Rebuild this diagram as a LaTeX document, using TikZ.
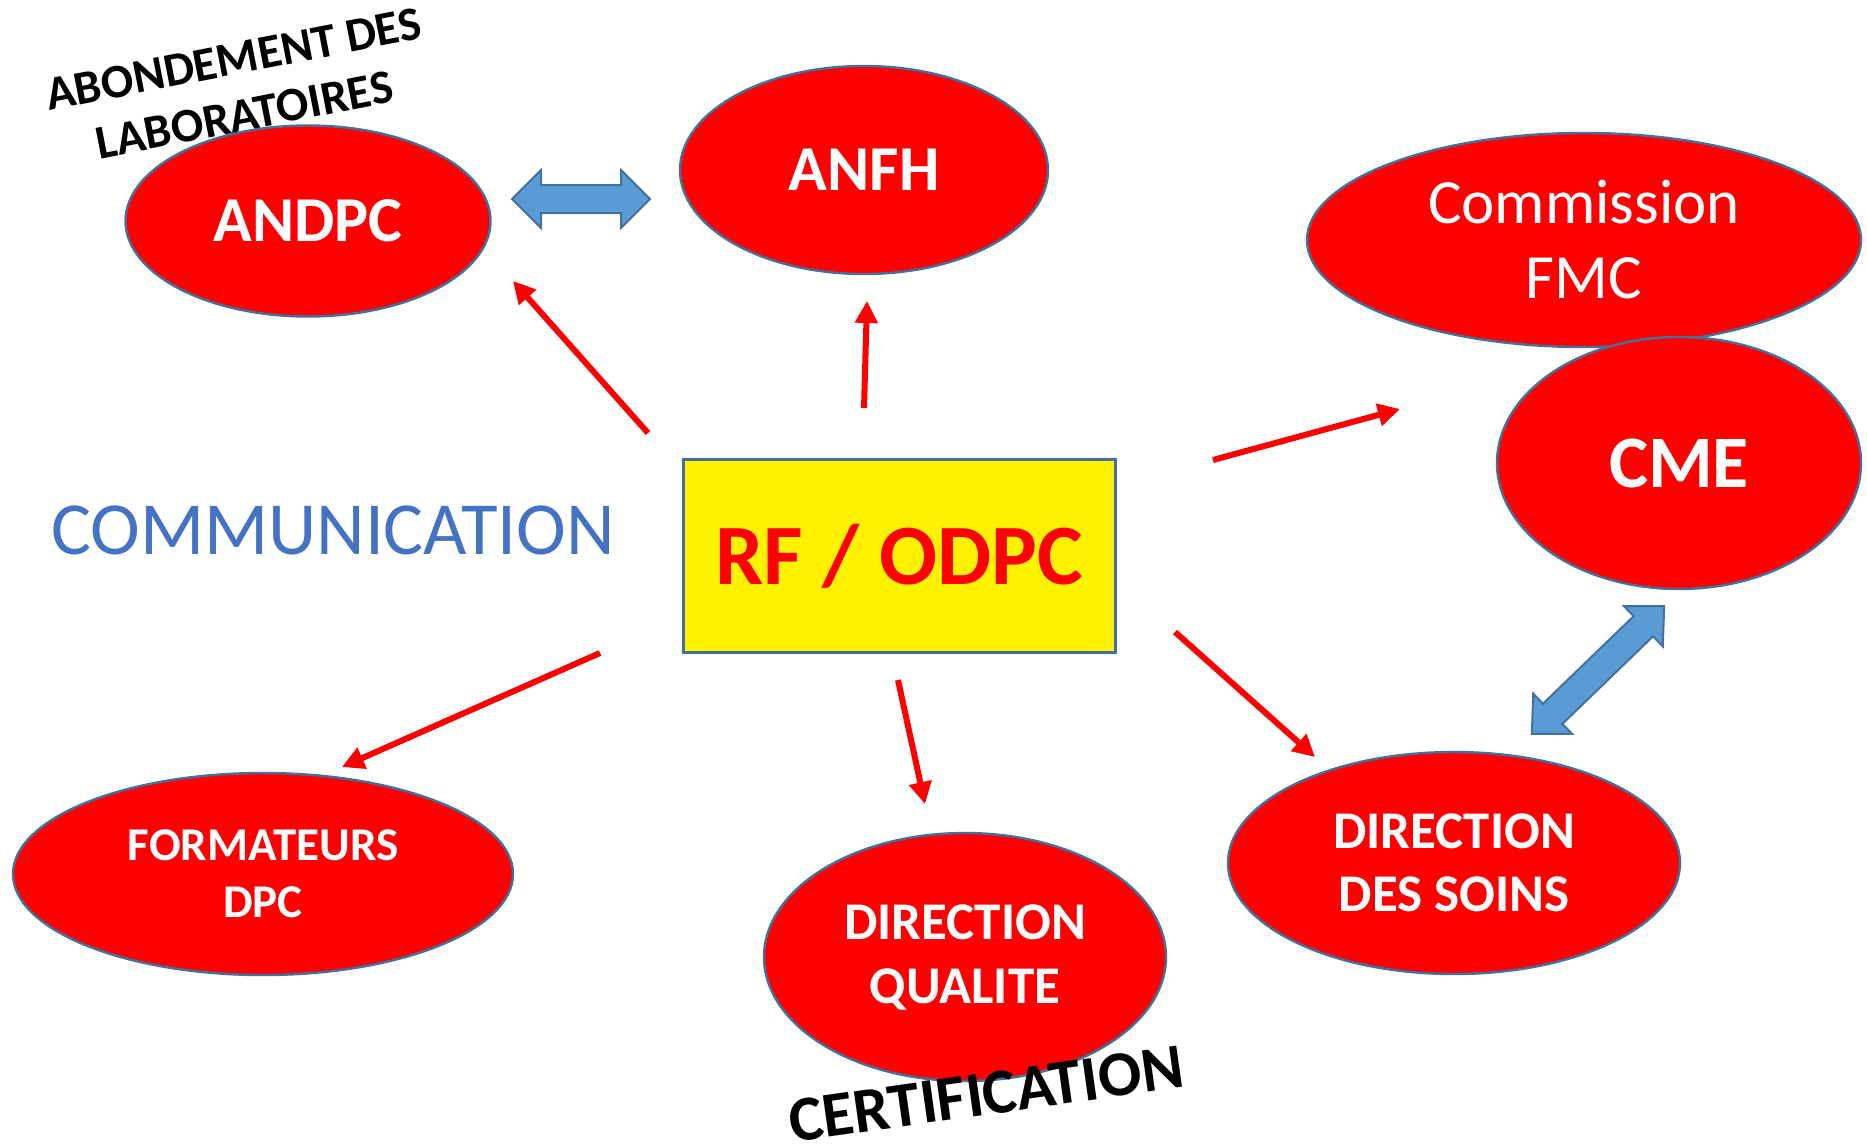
\documentclass[tikz,border=0pt]{standalone}
\usepackage{fontspec}
\setmainfont{Carlito}
\usetikzlibrary{arrows.meta,shapes.geometric}
\definecolor{rimblue}{HTML}{41719C}
\definecolor{arrowblue}{HTML}{5B9BD5}
\definecolor{textblue}{HTML}{4472C4}

\begin{document}
\begin{tikzpicture}[x=0.5pt,y=-0.5pt,
    bubble/.style={ellipse,draw=rimblue,line width=1.2pt,fill=red,text=white,inner sep=0pt,align=center},
    redarrow/.style={red,line width=3pt,-{Triangle[length=11pt,width=11pt]}},
    blockarrow/.style={draw=rimblue,line width=1pt,fill=arrowblue,line join=miter}]
    \useasboundingbox (0,0) rectangle (1867,1147);

    % bulles
    \node[bubble,minimum width=182.5pt,minimum height=95.5pt,font=\fontsize{32}{38}\selectfont\bfseries] (andpc) at (308,221) {ANDPC};
    \node[bubble,minimum width=184pt,minimum height=104pt,font=\fontsize{32}{38}\selectfont\bfseries] (anfh) at (864,170) {ANFH};
    \node[bubble,minimum width=277pt,minimum height=107pt,font=\fontsize{31.5}{37.5}\selectfont] (fmc) at (1584,240) {Commission\\FMC};
    \node[bubble,minimum width=182pt,minimum height=126pt,font=\fontsize{37}{44}\selectfont\bfseries] (cme) at (1679,463) {CME};
    \node[bubble,minimum width=250pt,minimum height=101pt,font=\fontsize{23.5}{28.5}\selectfont\bfseries] (formateurs) at (263,874) {FORMATEURS\\DPC};
    \node[bubble,minimum width=201pt,minimum height=124pt,font=\fontsize{26.5}{32}\selectfont\bfseries] (qualite) at (965,957) {DIRECTION\\QUALITE};
    \node[bubble,minimum width=226pt,minimum height=111pt,font=\fontsize{26.5}{31.5}\selectfont\bfseries] (soins) at (1454,863) {DIRECTION\\DES SOINS};

    \node[draw=rimblue,line width=1.5pt,fill=yellow,minimum width=216pt,minimum height=96.5pt,inner sep=0pt,text=red,font=\fontsize{43}{52}\selectfont\bfseries] (rf) at (899,556) {RF / ODPC};

    % textes libres
    \node[text=textblue,font=\fontsize{37.5}{45}\selectfont] (comm) at (333,530) {COMMUNICATION};
    \node[rotate=11,align=center,font=\fontsize{24}{28.5}\selectfont\bfseries] (abond) at (239,87) {ABONDEMENT DES\\LABORATOIRES};
    \node[rotate=8,font=\fontsize{32}{38}\selectfont\bfseries] (certif) at (986,1094) {CERTIFICATION};

    % fleches rouges
    \coordinate (a1s) at (648,433);
    \coordinate (a1e) at (513,281);
    \coordinate (a2s) at (864,408);
    \coordinate (a2e) at (867,301);
    \coordinate (a3s) at (1213,460);
    \coordinate (a3e) at (1400,409);
    \coordinate (a4s) at (1175,632);
    \coordinate (a4e) at (1315,757);
    \coordinate (a5s) at (898,680);
    \coordinate (a5e) at (925,804);
    \coordinate (a6s) at (600,653);
    \coordinate (a6e) at (342,767);

    \draw[redarrow] (a1s) -- (a1e);
    \draw[redarrow] (a2s) -- (a2e);
    \draw[redarrow] (a3s) -- (a3e);
    \draw[redarrow] (a4s) -- (a4e);
    \draw[redarrow] (a5s) -- (a5e);
    \draw[redarrow] (a6s) -- (a6e);

    % doubles fleches bleues
    \draw[blockarrow,shift={(581,199)}] (-69,0) -- (-40,29) -- (-40,14) -- (40,14) -- (40,29) -- (69,0) -- (40,-29) -- (40,-14) -- (-40,-14) -- (-40,-29) -- cycle;
    \draw[blockarrow,shift={(1598,670)},rotate=44] (-92,0) -- (-63,28) -- (-63,14) -- (63,14) -- (63,28) -- (92,0) -- (63,-28) -- (63,-14) -- (-63,-14) -- (-63,-28) -- cycle;

\end{tikzpicture}
\end{document}
